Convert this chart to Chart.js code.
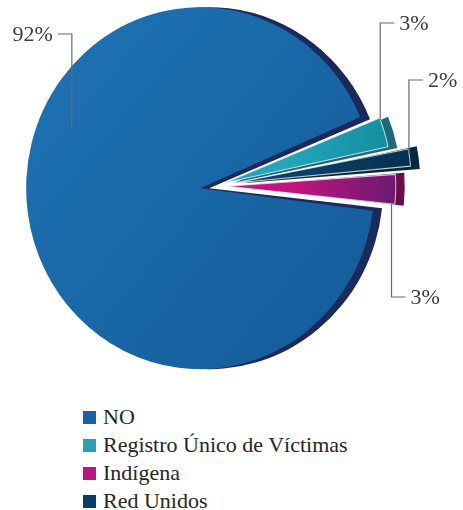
<!DOCTYPE html>
<html>
<head>
<meta charset="utf-8">
<script src="https://cdn.jsdelivr.net/npm/chart.js@4"></script>
<style>
  body { margin: 0; background: #fff; }
  #wrap { position: relative; width: 463px; height: 510px; }
  #box { position: absolute; left: 0; top: 0; width: 463px; height: 395px; }
  #legend { position: absolute; left: 83px; top: 403px; font-family: "Liberation Serif", "DejaVu Serif", serif; color: #262626; }
  #legend .row { display: flex; align-items: center; height: 28px; white-space: nowrap; }
  #legend .sw { width: 13px; height: 13px; margin-right: 7px; }
  #legend .tx { font-size: 22px; line-height: 28px; }
</style>
</head>
<body>
<div id="wrap">
  <div id="box"><canvas id="pieChart"></canvas></div>
  <div id="legend"></div>
</div>
<script>
// data, in the order the slices go round the pie (clockwise)
const categories = ['NO', 'Registro Único de Víctimas', 'Red Unidos', 'Indígena'];
const values = [92, 3, 2, 3];
const percentLabels = ['92%', '3%', '2%', '3%'];
// order used by the legend underneath
const legendOrder = ['NO', 'Registro Único de Víctimas', 'Indígena', 'Red Unidos'];

const flatColors = ['#1a62a3', '#2aa0b5', '#0a3d62', '#b8177f'];
const sideColors = ['#1b2a5c', '#1b6b7c', '#05283f', '#6e0c48'];
const gradStops = [
    ['#2076b7', '#135896'],
    ['#24a6ba', '#12879a'],
    ['#0b4168', '#062f4b'],
    ['#c4157f', '#5a1a70']
];
const offsets = [60, 40, 80, 48];
const stretchY = 1.04;   // pie is drawn a bit taller than wide

// where each leader line starts on its slice, and where its text sits
const labelSpots = [
    { t: 0.598, rf: 0.81, ly: 34, dir: -1 },
    { t: 0.10, rf: 1.0, ly: 23, dir: 1 },
    { t: 0.30, rf: 1.0, ly: 80, dir: 1 },
    { t: 0.95, rf: 0.98, ly: 297, dir: 1 }
];

// same shift and radius the arc element uses when it draws an offset slice
function sliceGeom(el) {
    const half = (el.startAngle + el.endAngle) / 2;
    const off = (el.options.offset || 0) / 4;
    const fix = 1 - Math.sin(Math.min(Math.PI, el.circumference || 0));
    return { x: el.x + Math.cos(half) * off, y: el.y + Math.sin(half) * off, r: el.outerRadius + off * fix };
}

// darker copy of each slice, pushed right, to give the pie some depth
const depthPlugin = {
    id: 'depth',
    beforeDatasetsDraw(chart) {
        const ctx = chart.ctx;
        const arcs = chart.getDatasetMeta(0).data;
        const cy = arcs[0].y;
        ctx.save();
        ctx.translate(0, cy);
        ctx.scale(1, stretchY);
        ctx.translate(0, -cy);
        arcs.forEach((el, i) => {
            const g = sliceGeom(el);
            ctx.fillStyle = sideColors[i];
            ctx.beginPath();
            ctx.moveTo(g.x + 9, g.y);
            ctx.arc(g.x + 9, g.y, g.r, el.startAngle, el.endAngle);
            ctx.closePath();
            ctx.fill();
        });
    },
    afterDatasetsDraw(chart) {
        chart.ctx.restore();
    }
};

const calloutPlugin = {
    id: 'callouts',
    afterDatasetsDraw(chart) {
        const ctx = chart.ctx;
        const arcs = chart.getDatasetMeta(0).data;
        const cy = arcs[0].y;
        ctx.save();
        ctx.strokeStyle = '#6a6a6a';
        ctx.lineWidth = 1.2;
        ctx.fillStyle = '#3a3a3a';
        ctx.font = '22px "Liberation Serif", serif';
        ctx.textBaseline = 'middle';
        arcs.forEach((el, i) => {
            const s = labelSpots[i];
            const g = sliceGeom(el);
            const a = el.startAngle + s.t * (el.endAngle - el.startAngle);
            const ax = g.x + Math.cos(a) * g.r * s.rf;
            const ay = cy + (g.y + Math.sin(a) * g.r * s.rf - cy) * stretchY;
            const hx = ax + s.dir * 14;
            ctx.beginPath();
            ctx.moveTo(ax, ay);
            ctx.lineTo(ax, s.ly);
            ctx.lineTo(hx, s.ly);
            ctx.stroke();
            ctx.textAlign = s.dir < 0 ? 'right' : 'left';
            ctx.fillText(percentLabels[i], hx + s.dir * 5, s.ly + 1);
        });
        ctx.restore();
    }
};

function sliceFill(context) {
    const i = context.dataIndex;
    const area = context.chart.chartArea;
    if (!area) return flatColors[i];
    const ctx = context.chart.ctx;
    let g;
    if (i === 0) {
        g = ctx.createLinearGradient(area.left, area.top, area.right, area.bottom);
    } else {
        const cx = (area.left + area.right) / 2;
        g = ctx.createLinearGradient(cx + 60, 0, cx + 190, 0);
    }
    g.addColorStop(0, gradStops[i][0]);
    g.addColorStop(1, gradStops[i][1]);
    return g;
}

const pieConfig = {
    type: 'pie',
    data: {
        labels: categories,
        datasets: [{
            data: values,
            backgroundColor: sliceFill,
            borderColor: 'rgba(235,240,248,0.8)',
            borderWidth: [0, 1, 1, 1],
            offset: offsets,
            clip: false
        }]
    },
    options: {
        responsive: true,
        maintainAspectRatio: false,
        animation: false,
        rotation: 96.4,
        radius: 159,
        layout: { padding: { left: 0, right: 33, top: 0, bottom: 23 } },
        plugins: {
            legend: { display: false },
            tooltip: { enabled: false }
        }
    },
    plugins: [depthPlugin, calloutPlugin]
};

const pieChart = new Chart(document.getElementById('pieChart'), pieConfig);

// html legend, stacked one item per line
const legendBox = document.getElementById('legend');
legendOrder.forEach(name => {
    const i = categories.indexOf(name);
    const row = document.createElement('div');
    row.className = 'row';
    const sw = document.createElement('span');
    sw.className = 'sw';
    sw.style.background = flatColors[i];
    const tx = document.createElement('span');
    tx.className = 'tx';
    tx.textContent = name;
    row.appendChild(sw);
    row.appendChild(tx);
    legendBox.appendChild(row);
});
</script>
</body>
</html>
